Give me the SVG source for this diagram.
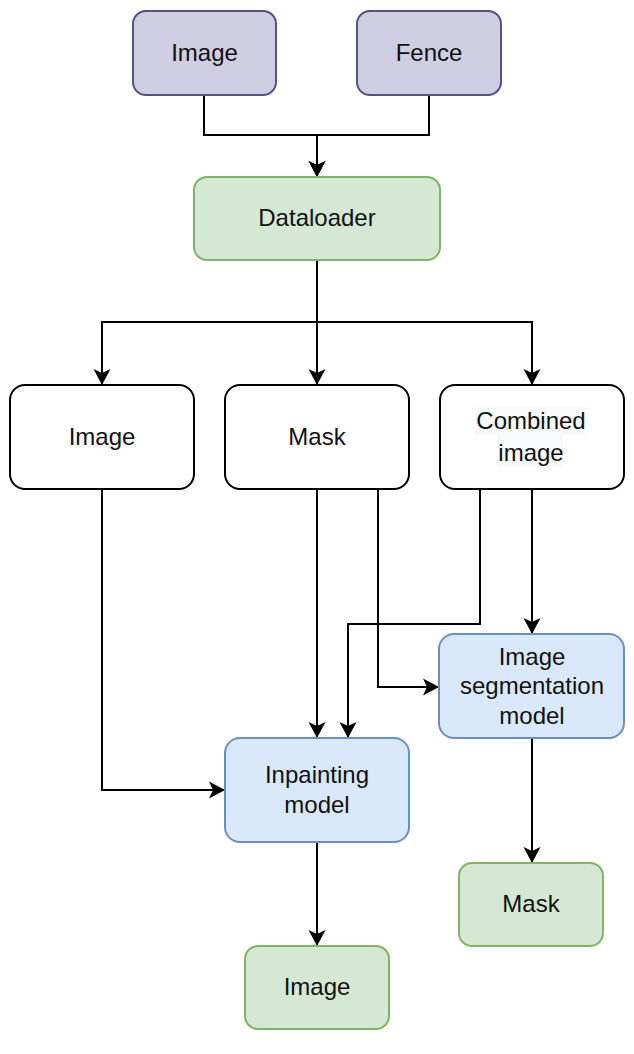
<svg xmlns="http://www.w3.org/2000/svg" width="634" height="1054" viewBox="0 0 634 1054">
<style>
.n{stroke-width:2}
.p{fill:#d0cee2;stroke:#56517e}
.g{fill:#d5e8d4;stroke:#82b366}
.b{fill:#dae8fc;stroke:#6c8ebf}
.w{fill:#ffffff;stroke:#000000}
.hl{fill:#f8f9fa}
text{font-family:"Liberation Sans",Arial,sans-serif;font-size:24px;fill:#111;text-anchor:middle}
.c path{fill:none;stroke:#000;stroke-width:2;marker-end:url(#arr)}
</style>
<defs>
<marker id="arr" markerUnits="userSpaceOnUse" markerWidth="20" markerHeight="20" viewBox="-17 -10 19 20" refX="0" refY="0" orient="auto">
<path d="M0,0 L-16,-8.5 L-12,0 L-16,8.5 Z" fill="#000"/>
</marker>
</defs>
<rect width="634" height="1054" fill="#fff"/>
<g class="c" id="connectors">
<path d="M204,95 V135 H317 V177"/>
<path d="M429,95 V135 H317 V177"/>
<path d="M317,260 V322 H102 V385"/>
<path d="M317,260 V385"/>
<path d="M317,260 V322 H532 V385"/>
<path d="M102,489 V790 H225"/>
<path d="M317,489 V738"/>
<path d="M378,489 V687 H439"/>
<path d="M480,489 V624 H348 V738"/>
<path d="M532,489 V634"/>
<path d="M317,842 V946"/>
<path d="M532,738 V863"/>
</g>
<g id="n-image-in"><rect class="n p" x="133" y="11" width="143" height="84" rx="13"/><text x="204.5" y="61">Image</text></g>
<g id="n-fence"><rect class="n p" x="357" y="11" width="144" height="84" rx="13"/><text x="429" y="61">Fence</text></g>
<g id="n-dataloader"><rect class="n g" x="194" y="177" width="246" height="83" rx="13"/><text x="317" y="226">Dataloader</text></g>
<g id="n-image-mid"><rect class="n w" x="10" y="385" width="184" height="104" rx="15"/><text x="102" y="445">Image</text></g>
<g id="n-mask-mid"><rect class="n w" x="225" y="385" width="184" height="104" rx="15"/><text x="317" y="445">Mask</text></g>
<g id="n-combined"><rect class="n w" x="440" y="385" width="184" height="104" rx="15"/><rect class="hl" x="475" y="407" width="111" height="28"/><rect class="hl" x="497" y="435" width="66" height="32"/><text x="531" y="429">Combined</text><text x="531" y="461">image</text></g>
<g id="n-seg"><rect class="n b" x="439" y="634" width="185" height="104" rx="15"/><text x="532" y="665">Image</text><text x="532" y="694">segmentation</text><text x="532" y="724">model</text></g>
<g id="n-inpaint"><rect class="n b" x="225" y="738" width="184" height="104" rx="15"/><text x="317" y="783">Inpainting</text><text x="317" y="813">model</text></g>
<g id="n-image-out"><rect class="n g" x="245" y="946" width="144" height="83" rx="13"/><text x="317" y="995">Image</text></g>
<g id="n-mask-out"><rect class="n g" x="459" y="863" width="144" height="83" rx="13"/><text x="531" y="912">Mask</text></g>
</svg>
